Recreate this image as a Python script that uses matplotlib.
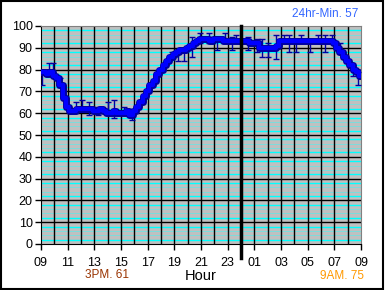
import numpy as np
import matplotlib.pyplot as plt
from matplotlib.patches import Rectangle

plt.rcParams['font.family'] = ['Liberation Sans', 'DejaVu Sans']

# temperature every 15 min starting at 09:00
temps = [79, 79, 78, 79, 77, 76, 73, 67, 63, 61, 61, 62, 62, 62, 62, 62,
         61, 61, 62, 61, 60, 60, 61, 60, 60, 60, 61, 59, 61, 63, 65, 68,
         70, 73, 75, 78, 80, 82, 84, 86, 87, 88, 89, 89, 90, 91, 92, 93,
         94, 94, 94, 93, 94, 94, 94, 93, 93, 93, 93, 93, 93, 93, 93, 92,
         92, 92, 90, 90, 90, 90, 90, 91, 93, 93, 93, 93, 93, 93, 93, 93,
         93, 93, 93, 93, 93, 93, 93, 93, 92, 90, 88, 86, 84, 82, 80, 79,
         77]

# high/low spikes (hours after 09:00)
spike_hour = [0.1, 0.6, 0.9, 1.4, 2.6, 3.1, 3.6, 4.3, 5.0, 5.5, 6.2, 6.8,
              8.8, 9.8, 10.3, 10.7, 11.3, 11.9, 12.6, 13.2, 13.8, 14.3,
              14.6, 15.5, 16.2, 16.6, 17.0, 17.6, 18.2, 18.6, 19.1, 19.5,
              20.2, 20.8, 21.3, 21.8, 22.4, 23.4, 23.8]
spike_lo = [73, 78, 78, 72, 61, 61, 59, 59, 60, 58, 60, 57,
            77, 85, 84, 84, 86, 92, 92, 89, 92, 89,
            92, 89, 88, 86, 86, 85, 92, 88, 88, 92,
            88, 92, 88, 92, 88, 77, 73]
spike_hi = [80, 83, 83, 76, 65, 66, 65, 63, 65, 66, 63, 61,
            80, 88, 88, 90, 95, 97, 97, 95, 97, 95,
            96, 95, 94, 94, 92, 96, 96, 96, 94, 96,
            94, 96, 96, 96, 92, 82, 79]

hour_labels = ['09', '11', '13', '15', '17', '19', '21', '23',
               '01', '03', '05', '07', '09']
midnight = 15

t = np.arange(len(temps)) * 0.25

fig = plt.figure(figsize=(3.85, 2.90), dpi=100)
ax = fig.add_axes([41 / 385, 46 / 290, 320 / 385, 218 / 290])
ax.set_facecolor('#C0C0C0')

# cyan minor grid
for base in range(0, 100, 10):
    for off, lw, c in [(2, 1.0, '#00FFFF'), (4, 0.5, '#60E8E8'),
                       (6, 0.5, '#60E8E8'), (8, 1.0, '#00FFFF')]:
        ax.axhline(base + off, color=c, lw=lw, zorder=1)
# black grid
for v in range(10, 100, 10):
    ax.axhline(v, color='black', lw=1.0, zorder=1.5)
for h in range(1, 24):
    ax.axvline(h, color='black', lw=1.0, zorder=1.5)

# data
ax.vlines(spike_hour, spike_lo, spike_hi, color='#0000A0', lw=1.0, zorder=3)
ax.plot(spike_hour, spike_hi, ls='none', marker='_', ms=4, mew=1.0,
        color='#0000A0', zorder=3)
ax.plot(spike_hour, spike_lo, ls='none', marker='_', ms=4, mew=1.0,
        color='#0000A0', zorder=3)
ax.plot(t, temps, color='#0000A0', lw=5, zorder=4, drawstyle='steps-mid')
ax.plot(t, temps, color='#0000FF', lw=3, zorder=5, drawstyle='steps-mid')

ax.axvline(midnight, ymin=-0.065, ymax=1, color='black', lw=2.5,
           clip_on=False, zorder=6)

ax.set_xlim(0, 24)
ax.set_ylim(0, 100)
ax.set_xticks(range(0, 25, 2))
ax.set_xticklabels(hour_labels)
ax.set_yticks(range(0, 101, 10))
ax.tick_params(direction='out', length=4, width=1, labelsize=9, pad=2)
ax.tick_params(axis='x', pad=5)
for s in ['left', 'bottom']:
    ax.spines[s].set_color('black')
for s in ['top', 'right']:
    ax.spines[s].set_color('#808080')

ax.set_xlabel('Hour', fontsize=10.5, labelpad=0)

fig.text(358 / 385, 1 - 14 / 290, '24hr-Min. 57', color='#3366FF',
         fontsize=8.5, ha='right', va='center')
fig.text(107 / 385, 1 - 275 / 290, '3PM. 61', color='#993300',
         fontsize=8.5, ha='center', va='center')
fig.text(364 / 385, 1 - 276 / 290, '9AM. 75', color='#FF9900',
         fontsize=8.5, ha='right', va='center')

fig.patches.append(Rectangle((0.002, 0.003), 0.994, 0.994,
                             transform=fig.transFigure, fill=False,
                             edgecolor='black', lw=1.5))

fig.savefig('out.png', dpi=100)
